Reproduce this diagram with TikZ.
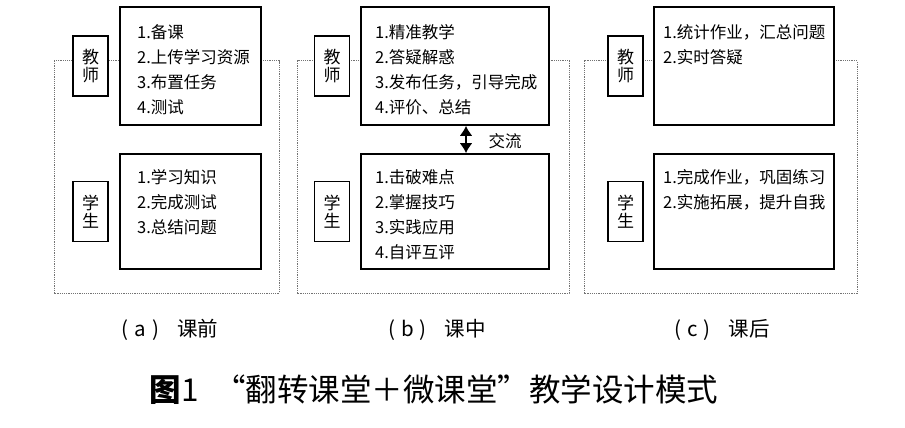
\documentclass[tikz,border=0pt]{standalone}
\usepackage{fontspec}
\setmainfont{Noto Sans CJK SC}
\usepackage{tikz}
\usetikzlibrary{arrows.meta}

\begin{document}
\begin{tikzpicture}[x=1pt,y=-1pt,
  frame/.style={draw=black!55,line width=1pt,dash pattern=on 1.2pt off 1pt},
  rolebox/.style={draw,line width=1.6pt,fill=white,minimum width=35pt,minimum height=60pt,inner sep=0pt,align=center,font=\fontsize{17}{18}\selectfont},
  taskbox/.style={draw,line width=1.6pt,fill=white,inner sep=0pt},
  tasklist/.style={anchor=north west,inner sep=0pt,align=left,font=\fontsize{16.5}{25}\selectfont},
  caption/.style={font=\fontsize{20.5}{24}\selectfont},
  titletext/.style={font=\fontsize{31.5}{36}\selectfont},
  dblarrow/.style={{Latex[length=10pt,width=13pt]}-{Latex[length=10pt,width=13pt]},line width=2pt}]
\useasboundingbox (0,0) rectangle (905,428);

\draw[frame] (54,61) rectangle (279,293);
\node[rolebox] (ta) at (90.5,66) {教\\师};
\node[rolebox] (sa) at (90.5,211.5) {学\\生};
\node[taskbox,minimum width=141pt,minimum height=118pt] (tka) at (190.5,66) {};
\node[taskbox,minimum width=141pt,minimum height=115pt] (ska) at (190.5,211.5) {};
\node[tasklist] (tla) at (137,24) {1.备课\\2.上传学习资源\\3.布置任务\\4.测试};
\node[tasklist] (sla) at (137,169) {1.学习知识\\2.完成测试\\3.总结问题};

\draw[frame] (297,61) rectangle (569,293);
\node[rolebox] (tb) at (332,66) {教\\师};
\node[rolebox] (sb) at (332,211.5) {学\\生};
\node[taskbox,minimum width=188pt,minimum height=118pt] (tkb) at (455,66) {};
\node[taskbox,minimum width=188pt,minimum height=115pt] (skb) at (455,211.5) {};
\node[tasklist] (tlb) at (375,24) {1.精准教学\\2.答疑解惑\\3.发布任务，引导完成\\4.评价、总结};
\node[tasklist] (slb) at (375,169) {1.击破难点\\2.掌握技巧\\3.实践应用\\4.自评互评};
\draw[dblarrow] ([xshift=11]tkb.south) -- ([xshift=11]skb.north);
\node (talk) at (505,141) {\fontsize{16.5}{20}\selectfont 交流};

\draw[frame] (584,61) rectangle (857,293);
\node[rolebox] (tc) at (625.5,66) {教\\师};
\node[rolebox] (sc) at (625.5,211.5) {学\\生};
\node[taskbox,minimum width=180pt,minimum height=118pt] (tkc) at (744,66) {};
\node[taskbox,minimum width=180pt,minimum height=115pt] (skc) at (744,211.5) {};
\node[tasklist] (tlc) at (663,24) {1.统计作业，汇总问题\\2.实时答疑};
\node[tasklist] (slc) at (663,169) {1.完成作业，巩固练习\\2.实施拓展，提升自我};

\node[caption] (capa) at (170,330) {(\hspace{6pt}a\hspace{6pt})\hspace{18pt}课前};
\node[caption] (capb) at (437,330) {(\hspace{6pt}b\hspace{6pt})\hspace{18pt}课中};
\node[caption] (capc) at (722,330) {(\hspace{6pt}c\hspace{6pt})\hspace{18pt}课后};
\node[titletext] (title) at (434,390) {\textbf{图}1\hspace{0.5em}“翻转课堂＋微课堂”教学设计模式};
\end{tikzpicture}
\end{document}
